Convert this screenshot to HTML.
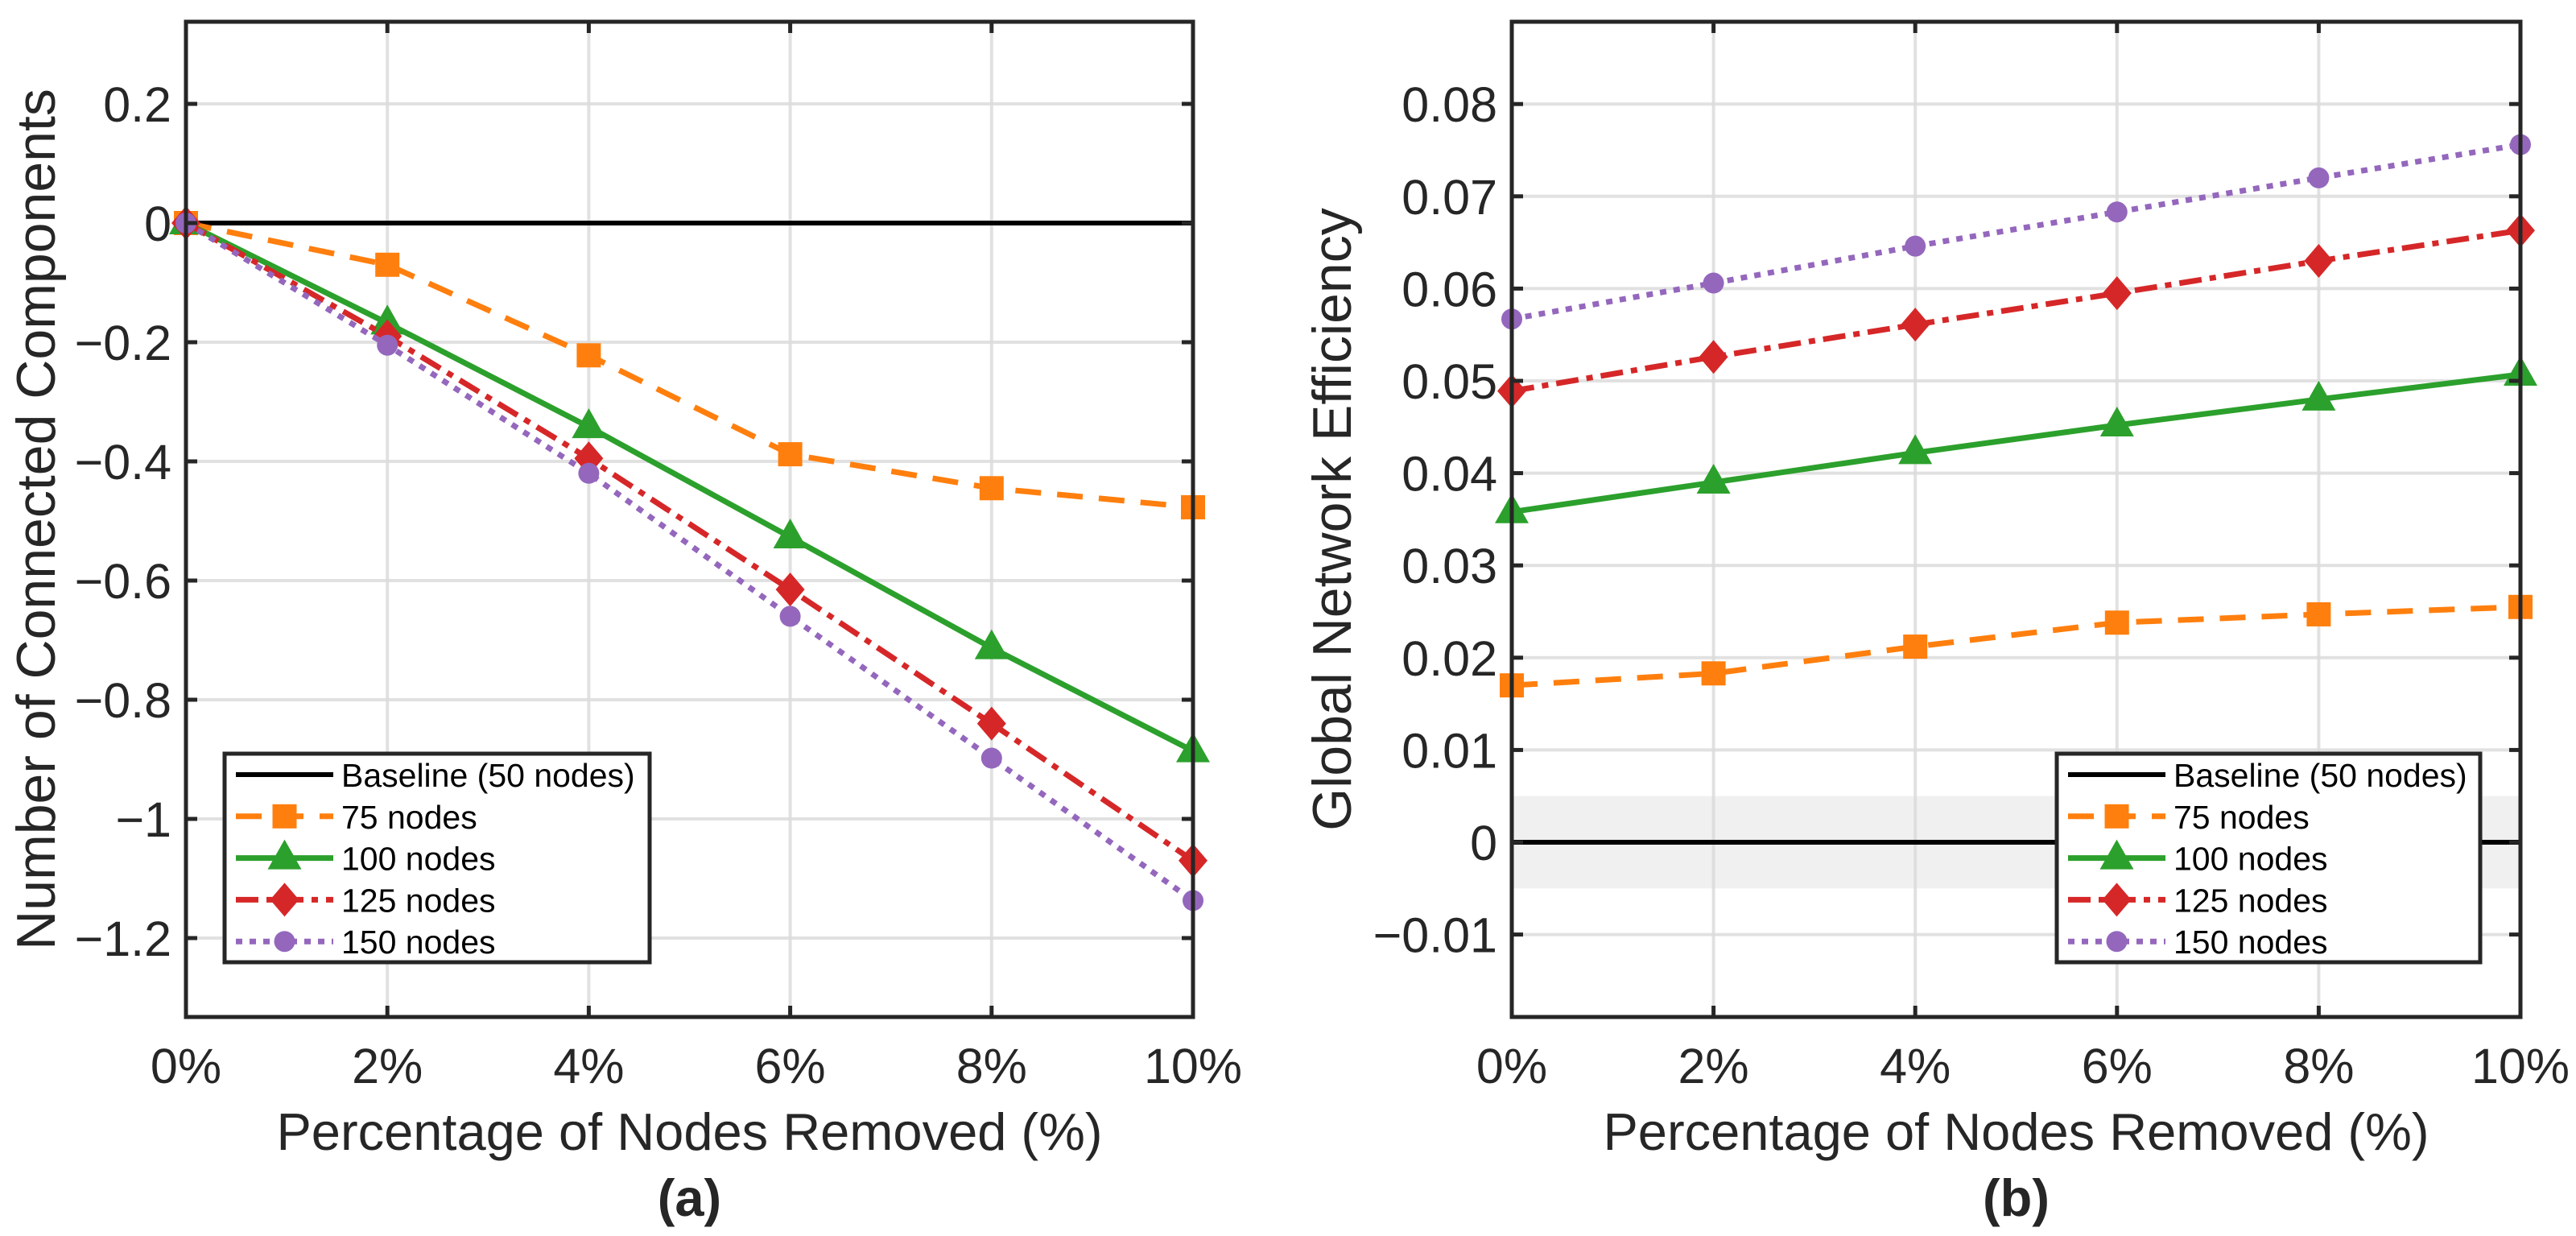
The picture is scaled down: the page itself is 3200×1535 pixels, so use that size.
<!DOCTYPE html>
<html><head><meta charset="utf-8">
<style>
html,body{margin:0;padding:0;background:#fff;}
svg{display:block;font-family:"Liberation Sans",Arial,sans-serif;}
</style></head>
<body>
<svg id="fig" width="3200" height="1535" viewBox="0 0 3200 1535" xmlns="http://www.w3.org/2000/svg"></svg>
<script>
const xCategories = [0, 2, 4, 6, 8, 10];
const xTickLabels = ["0%", "2%", "4%", "6%", "8%", "10%"];
const seriesNames = ["75 nodes", "100 nodes", "125 nodes", "150 nodes"];
const compBaseline = [0, 0, 0, 0, 0, 0];
const comp75 = [0, -0.07, -0.222, -0.388, -0.445, -0.477];
const comp100 = [0, -0.168, -0.342, -0.527, -0.713, -0.886];
const comp125 = [0, -0.19, -0.395, -0.615, -0.84, -1.07];
const comp150 = [0, -0.205, -0.42, -0.66, -0.898, -1.137];
const compTicks = [0.2, 0, -0.2, -0.4, -0.6, -0.8, -1, -1.2];
const compTickLabels = ["0.2", "0", "\u22120.2", "\u22120.4", "\u22120.6", "\u22120.8", "\u22121", "\u22121.2"];
const effBaseline = [0, 0, 0, 0, 0, 0];
const eff75 = [0.017, 0.0183, 0.0212, 0.0238, 0.0247, 0.0255];
const eff100 = [0.0358, 0.039, 0.0422, 0.0452, 0.048, 0.0507];
const eff125 = [0.0489, 0.0526, 0.0561, 0.0595, 0.063, 0.0663];
const eff150 = [0.0567, 0.0606, 0.0646, 0.0683, 0.072, 0.0756];
const effTicks = [0.08, 0.07, 0.06, 0.05, 0.04, 0.03, 0.02, 0.01, 0, -0.01];
const effTickLabels = ["0.08", "0.07", "0.06", "0.05", "0.04", "0.03", "0.02", "0.01", "0", "\u22120.01"];

const NS = "http://www.w3.org/2000/svg";
const svg = document.getElementById("fig");
function mk(tag, attrs, parent) {
  const e = document.createElementNS(NS, tag);
  for (const k in attrs) e.setAttribute(k, attrs[k]);
  (parent || svg).appendChild(e);
  return e;
}
const styles = [
  {color: "#ff7f0e", dash: "32 20", marker: "square"},
  {color: "#2ca02c", dash: "", marker: "triangle"},
  {color: "#d62728", dash: "28 10 8 10", marker: "diamond"},
  {color: "#9467bd", dash: "8 9", marker: "circle"}
];
function marker(g, type, cx, cy, color) {
  let m;
  if (type === "square") m = mk("rect", {x: cx - 15, y: cy - 15, width: 30, height: 30, fill: color}, g);
  else if (type === "triangle") m = mk("polygon", {points: `${cx},${cy - 23} ${cx + 21},${cy + 14} ${cx - 21},${cy + 14}`, fill: color}, g);
  else if (type === "diamond") m = mk("polygon", {points: `${cx},${cy - 21} ${cx + 18},${cy} ${cx},${cy + 21} ${cx - 18},${cy}`, fill: color}, g);
  else m = mk("circle", {cx: cx, cy: cy, r: 13, fill: color}, g);
  return m;
}

function drawPanel(p) {
  const g = mk("g", {});
  
  
  const X = v => p.x0 + (v - 0) / 10 * (p.x1 - p.x0);
  const Y = v => p.yZero - v * p.yScale;
  if (p.band) {
    const b = mk("rect", {x: p.x0, y: Y(0.005), width: p.x1 - p.x0, height: Y(-0.005) - Y(0.005), fill: "#f0f0f0"}, g);
    
    
  }
  xCategories.forEach((c, i) => {
    if (i > 0 && i < xCategories.length - 1) {
      const l = mk("line", {x1: X(c), x2: X(c), y1: p.y0, y2: p.y1, stroke: "#dcdcdc", "stroke-width": 4, opacity: 0.85}, g);
      
      
    }
  });
  p.ticks.forEach(t => {
    const l = mk("line", {x1: p.x0, x2: p.x1, y1: Y(t), y2: Y(t), stroke: "#dcdcdc", "stroke-width": 4, opacity: 0.85}, g);
    
    
  });
  const bl = mk("polyline", {points: p.baseline.map((v, i) => X(xCategories[i]) + "," + Y(v)).join(" "), fill: "none", stroke: "#000", "stroke-width": 6}, g);
  
  
  p.series.forEach((s, si) => {
    const st = styles[si];
    const sg = mk("g", {}, g);
    
    
    const attrs = {points: s.map((v, i) => X(xCategories[i]) + "," + Y(v)).join(" "), fill: "none", stroke: st.color, "stroke-width": 7};
    if (st.dash) attrs["stroke-dasharray"] = st.dash;
    const pl = mk("polyline", attrs, sg);
    
    
    s.forEach((v, i) => {
      const m = marker(sg, st.marker, X(xCategories[i]), Y(v), st.color);
      
      
    });
  });
  const box = mk("rect", {x: p.x0, y: p.y0, width: p.x1 - p.x0, height: p.y1 - p.y0, fill: "none", stroke: "#262626", "stroke-width": 5}, g);
  
  
  xCategories.forEach((c, i) => {
    mk("line", {x1: X(c), x2: X(c), y1: p.y1, y2: p.y1 - 14, stroke: "#262626", "stroke-width": 5}, g);
    mk("line", {x1: X(c), x2: X(c), y1: p.y0, y2: p.y0 + 14, stroke: "#262626", "stroke-width": 5}, g);
    const t = mk("text", {x: X(c), y: 1345, "text-anchor": "middle", "font-size": 61, fill: "#262626"}, g);
    t.textContent = xTickLabels[i];
    
    
  });
  p.ticks.forEach((tv, i) => {
    mk("line", {x1: p.x0, x2: p.x0 + 14, y1: Y(tv), y2: Y(tv), stroke: "#262626", "stroke-width": 5}, g);
    mk("line", {x1: p.x1, x2: p.x1 - 14, y1: Y(tv), y2: Y(tv), stroke: "#262626", "stroke-width": 5}, g);
    const t = mk("text", {x: p.x0 - 18, y: Y(tv) + 22, "text-anchor": "end", "font-size": 61, fill: "#262626"}, g);
    t.textContent = p.tickLabels[i];
    
    
  });
  const xl = mk("text", {x: (p.x0 + p.x1) / 2, y: 1428, "text-anchor": "middle", "font-size": 65, fill: "#262626"}, g);
  xl.textContent = "Percentage of Nodes Removed (%)";
  
  
  const yl = mk("text", {x: 0, y: 0, "text-anchor": "middle", "font-size": 68, fill: "#262626", transform: `translate(${p.ylx},${(p.y0 + p.y1) / 2}) rotate(-90)`}, g);
  yl.textContent = p.ytitle;
  
  
  const cap = mk("text", {x: (p.x0 + p.x1) / 2, y: 1510, "text-anchor": "middle", "font-size": 65, "font-weight": "bold", fill: "#262626"}, g);
  cap.textContent = p.caption;
  
  
  const lg = mk("g", {}, g);
  
  
  mk("rect", {x: p.lx, y: 936, width: p.lw, height: 259, fill: "#fff", stroke: "#262626", "stroke-width": 5}, lg);
  const names = ["Baseline (50 nodes)"].concat(seriesNames);
  names.forEach((n, i) => {
    const cy = 962 + i * 51.8;
    const e = mk("g", {}, lg);
    
    
    const x1 = p.lx + 14, x2 = p.lx + 135;
    if (i === 0) {
      mk("line", {x1: x1, x2: x2, y1: cy, y2: cy, stroke: "#000", "stroke-width": 6}, e);
    } else {
      const st = styles[i - 1];
      const a = {x1: x1, x2: x2, y1: cy, y2: cy, stroke: st.color, "stroke-width": 7};
      if (st.dash) a["stroke-dasharray"] = st.dash;
      mk("line", a, e);
      marker(e, st.marker, (x1 + x2) / 2, cy, st.color);
    }
    const t = mk("text", {x: p.lx + 145, y: cy + 15, "font-size": 41, fill: "#000"}, e);
    t.textContent = n;
  });
}

drawPanel({name: "panel-a-connected-components", x0: 231, x1: 1482, y0: 27, y1: 1263, yZero: 277, yScale: 740,
  ticks: compTicks, tickLabels: compTickLabels, baseline: compBaseline, series: [comp75, comp100, comp125, comp150],
  ytitle: "Number of Connected Components", ylx: 68, caption: "(a)", lx: 279, lw: 528, band: false});
drawPanel({name: "panel-b-global-efficiency", x0: 1878, x1: 3131, y0: 27, y1: 1263, yZero: 1046, yScale: 11460,
  ticks: effTicks, tickLabels: effTickLabels, baseline: effBaseline, series: [eff75, eff100, eff125, eff150],
  ytitle: "Global Network Efficiency", ylx: 1678, caption: "(b)", lx: 2555, lw: 526, band: true});
</script>
</body></html>
